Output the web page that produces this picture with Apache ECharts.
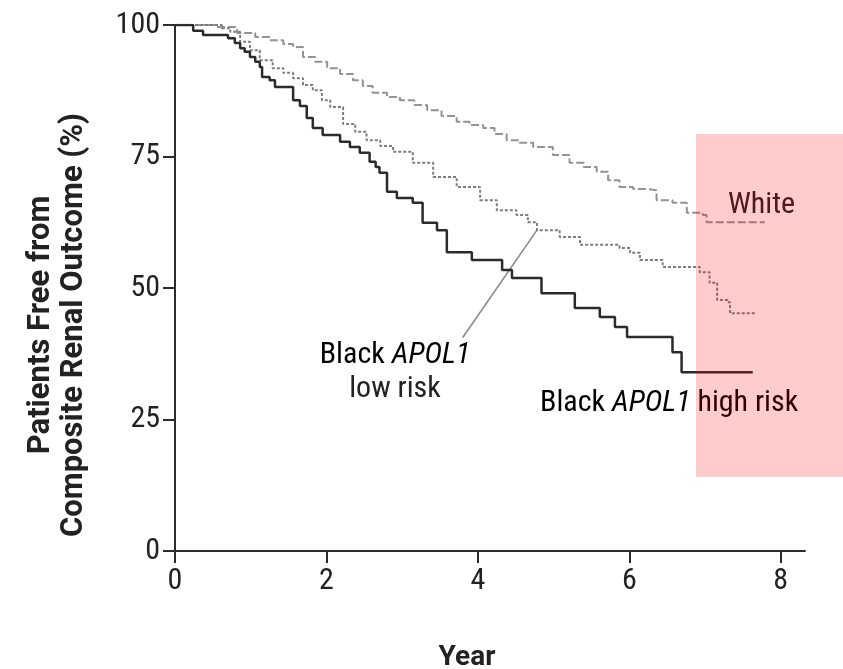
<!DOCTYPE html>
<html>
<head>
<meta charset="utf-8">
<script src="https://cdn.jsdelivr.net/npm/echarts@6/dist/echarts.min.js"></script>
<style>
html,body{margin:0;padding:0;background:#fff;}
#chart{width:843px;height:669px;}
</style>
</head>
<body>
<div id="chart"></div>
<script>
// Kaplan-Meier curves: [year, % free from outcome]
const highRisk = [
  [0,100],[0.24,98.9],[0.37,98.1],[0.70,97.5],[0.79,96.6],[0.86,95.6],[0.92,94.9],[0.99,93.9],
  [1.06,93.0],[1.12,92.0],[1.15,90.1],[1.25,89.5],[1.32,88.2],[1.56,85.7],[1.65,84.6],[1.74,82.3],
  [1.82,80.4],[1.95,79.1],[2.18,77.8],[2.31,76.8],[2.44,75.7],[2.57,74.0],[2.65,73.0],[2.70,71.9],
  [2.80,68.3],[2.93,67.1],[3.14,66.2],[3.27,62.4],[3.46,61.0],[3.59,56.8],[3.92,55.3],[4.32,53.4],
  [4.45,51.9],[4.84,49.0],[5.28,46.2],[5.61,44.5],[5.81,42.6],[5.97,40.7],[6.57,37.8],[6.69,34.0],
  [7.63,34.0]
];
const whiteGroup = [
  [0,100],[0.24,100],[0.53,99.6],[0.82,98.5],[1.06,97.7],[1.25,97.1],[1.43,96.4],[1.56,95.8],
  [1.69,93.9],[1.85,93.0],[2.01,91.8],[2.18,90.7],[2.35,89.5],[2.48,88.4],[2.61,87.1],[2.80,86.3],
  [2.97,85.7],[3.16,84.8],[3.33,83.8],[3.52,82.7],[3.72,81.6],[3.89,81.0],[4.07,80.4],[4.22,79.3],
  [4.38,78.1],[4.55,77.6],[4.73,76.8],[4.99,75.3],[5.21,73.8],[5.40,73.0],[5.57,72.1],[5.72,70.5],
  [5.87,69.2],[6.05,68.8],[6.23,68.6],[6.36,66.7],[6.57,66.2],[6.76,64.3],[6.97,63.9],[7.02,62.5],
  [7.79,62.5]
];
const lowRisk = [
  [0,100],[0.40,100],[0.62,99.4],[0.73,98.7],[0.86,96.8],[0.99,95.2],[1.12,93.3],[1.29,91.8],
  [1.43,90.9],[1.56,89.9],[1.69,88.6],[1.82,87.6],[1.94,85.7],[2.05,84.4],[2.22,81.2],[2.38,79.7],
  [2.53,78.1],[2.71,77.0],[2.88,75.9],[3.14,73.8],[3.41,71.1],[3.72,69.2],[4.03,66.7],[4.25,64.8],
  [4.51,63.9],[4.66,62.5],[4.78,61.0],[5.08,59.7],[5.35,58.2],[5.87,57.6],[6.01,56.7],[6.14,55.3],
  [6.44,54.0],[6.93,53.0],[7.06,51.0],[7.16,47.7],[7.30,47.3],[7.33,45.2],[7.66,45.2]
];
const leaderLine = [[4.78,61.0],[3.80,40.6]];
const xTicks = [0,2,4,6,8];
const yTicks = [0,25,50,75,100];
const labels = {
  white: 'White',
  black: 'Black ', gene: 'APOL1', lowB: 'low risk', high: ' high risk'
};

const FONT = "'Roboto Condensed', 'DejaVu Sans Condensed', sans-serif";
const BOLD = "Roboto, 'Liberation Sans', sans-serif";
const chart = echarts.init(document.getElementById('chart'), null, {renderer:'canvas'});
const axisCol = '#2b2b2b';
const txt = '#222';
const rich = {
  n: {fontFamily: FONT, fontSize: 30, color: txt},
  i: {fontFamily: FONT, fontSize: 30, fontStyle: 'italic', color: txt}
};
chart.setOption({
  animation: false,
  backgroundColor: '#fff',
  grid: {left: 175, top: 25, right: 38, bottom: 118, containLabel: false, outerBoundsMode: 'none'},
  xAxis: {
    type: 'value', min: 0, max: 8.32,
    name: 'Year', nameLocation: 'middle', nameGap: 93,
    nameTextStyle: {fontFamily: BOLD, fontWeight: 'bold', fontSize: 28, color: txt, padding: [0, 46, 0, 0]},
    axisLine: {lineStyle: {color: axisCol, width: 2}},
    axisTick: {show: true, length: 12, lineStyle: {color: axisCol, width: 2}, customValues: xTicks},
    axisLabel: {customValues: xTicks, margin: 15, fontFamily: FONT, fontSize: 30, color: txt},
    splitLine: {show: false}
  },
  yAxis: {
    type: 'value', min: 0, max: 100, interval: 25,
    name: 'Patients Free from\nComposite Renal Outcome (%)', nameLocation: 'middle', nameGap: 84, nameRotate: 90,
    nameTextStyle: {fontFamily: BOLD, fontWeight: 'bold', fontSize: 31, color: txt, lineHeight: 33, align: 'center', padding: [0, 74, 0, 0]},
    axisLine: {show: true, lineStyle: {color: axisCol, width: 2}},
    axisTick: {show: true, length: 12, lineStyle: {color: axisCol, width: 2}},
    axisLabel: {margin: 15, fontFamily: FONT, fontSize: 30, color: txt},
    splitLine: {show: false}
  },
  series: [
    {name: 'White', type: 'line', step: 'end', data: whiteGroup, symbol: 'none', z: 3,
     lineStyle: {color: '#939393', width: 2, type: [8, 3]}},
    {name: 'Black APOL1 low risk', type: 'line', step: 'end', data: lowRisk, symbol: 'none', z: 3,
     lineStyle: {color: '#7d7d7d', width: 2, type: [3, 2]}},
    {name: 'Black APOL1 high risk', type: 'line', step: 'end', data: highRisk, symbol: 'none', z: 4,
     lineStyle: {color: '#2b2b2b', width: 2.5}},
    {name: 'leader', type: 'line', data: leaderLine, symbol: 'none', z: 2,
     lineStyle: {color: '#8a8a8a', width: 1.6}}
  ],
  graphic: [
    {type: 'text', x: 728, y: 205, z: 10,
     style: {text: labels.white, font: '30px ' + FONT, fill: txt, align: 'left', verticalAlign: 'middle'}},
    {type: 'text', x: 395, y: 355, z: 10,
     style: {text: '{n|' + labels.black + '}{i|' + labels.gene + '}', align: 'center', verticalAlign: 'middle', rich: rich}},
    {type: 'text', x: 395, y: 389, z: 10,
     style: {text: labels.lowB, font: '30px ' + FONT, fill: txt, align: 'center', verticalAlign: 'middle'}},
    {type: 'text', x: 540, y: 403, z: 10,
     style: {text: '{n|' + labels.black + '}{i|' + labels.gene + '}{n|' + labels.high + '}', align: 'left', verticalAlign: 'middle', rich: rich}},
    {type: 'rect', shape: {x: 696, y: 134, width: 147, height: 343}, z: 100,
     style: {fill: 'rgba(255,0,0,0.2)'}}
  ]
});
</script>
</body>
</html>
